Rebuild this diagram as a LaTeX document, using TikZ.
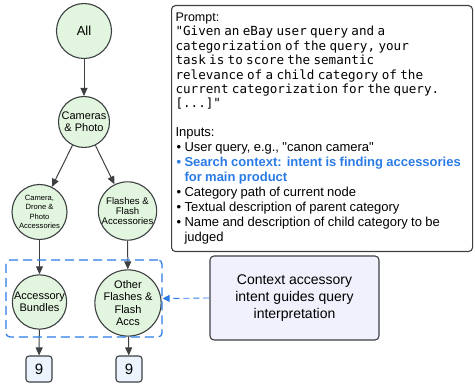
\documentclass[tikz,border=0pt]{standalone}
\usepackage{fontspec}
\setmainfont{Liberation Sans}
\setmonofont{DejaVu Sans Mono}[WordSpace={1,0,0},PunctuationSpace=WordSpace]
\usepackage{xcolor}
\usetikzlibrary{positioning,arrows.meta,calc}
\definecolor{catfill}{HTML}{E2F5DE}
\definecolor{edgegray}{HTML}{3C4043}
\definecolor{ctxblue}{HTML}{2B7BE6}
\definecolor{ctxfill}{HTML}{F0F1FC}
\definecolor{scorefill}{HTML}{EDF3FC}
\newcommand{\fs}[2]{\fontsize{#1}{#2}\selectfont}
\newcommand{\bul}{\makebox[8pt][l]{\textbullet}}
\tikzset{
cat/.style={
circle,
draw=edgegray,
line width=1.1pt,
fill=catfill,
inner sep=0pt,
align=center
},
scorebox/.style={
draw=edgegray,
rounded corners=3pt,
line width=1.1pt,
fill=scorefill,
minimum size=26pt,
inner sep=0pt,
font=\fs{15}{15}
},
arrow/.style={
-{Triangle[length=8pt,width=7pt]},
edgegray,
line width=1pt
}
}
\begin{document}
\begin{tikzpicture}[x=1pt,y=-1pt]
\useasboundingbox (0,0) rectangle (475,387);
% category tree
\node[cat,minimum size=55pt,font=\fs{13}{14}](all) at (84,31){All};
\node[cat,minimum size=51pt,font=\fs{11}{12}](cam) at (84,122){Cameras\\\& Photo};
\node[cat,minimum size=55pt,font=\fs{7.6}{9.4}](cdp) at (39.5,212){Camera,\\Drone \&\\Photo\\Accessories};
\node[cat,minimum size=53pt,font=\fs{9.6}{10.2}](ffa) at (127.5,211){Flashes \&\\Flash\\Accessories};
\node[cat,minimum size=54pt,font=\fs{11}{11.8}](ab) at (39.5,302){Accessory\\Bundles};
\node[cat,minimum size=52pt,font=\fs{11}{12.2}](ofa) at (128,303){Other\\Flashes \&\\Flash\\Accs};
\node[scorebox](s1) at (39,369){9};
\node[scorebox](s2) at (129,369){9};

\foreach \x/\y in {all/cam,cam/cdp,cam/ffa,cdp/ab,ffa/ofa,ab/s1,ofa/s2}
\draw[arrow](\x)--(\y);

% context highlight
\node[draw=ctxblue,dashed,dash pattern=on 9pt off 5pt,line width=1.2pt,rounded corners=4pt,
minimum width=156pt,minimum height=77pt](ctxzone) at (84,298.5){};
\node[draw=edgegray,line width=1.1pt,rounded corners=4pt,fill=ctxfill,
minimum width=169pt,minimum height=84pt,align=center,font=\fs{14}{16.7}](ctx) at (294.5,298){Context accessory\\intent guides query\\interpretation};
\draw[ctxblue,dashed,dash pattern=on 6pt off 4pt,line width=0.9pt,-{Triangle[length=7pt,width=7pt]}](ctx.west)--(ctxzone.east);

% prompt box
\node[draw=edgegray,line width=1.1pt,rounded corners=4pt,anchor=north west,
minimum width=299pt,minimum height=246pt,text width=293pt,inner sep=4pt,align=left](prompt) at (171,5){%
{\fs{12.5}{15}\vspace*{0.8pt}Prompt:\par}\vspace{-1pt}
{\ttfamily\fs{12.6}{14.4}\frenchspacing "Given an eBay user query and a\\categorization of the query, your\\task is to score the semantic\\relevance of a child category of the\\current categorization for the query.\\{}[...]"\par}
\vspace{13.5pt}
{\fs{13}{15}Inputs:\\
\hspace*{1pt}\bul User query, e.g., \textquotedbl canon camera\textquotedbl\\
\hspace*{1pt}{\color{ctxblue}\bfseries\bul Search context: intent is finding accessories}\\
\hspace*{9pt}{\color{ctxblue}\bfseries for main product}\\
\hspace*{1pt}\bul Category path of current node\\
\hspace*{1pt}\bul Textual description of parent category\\
\hspace*{1pt}\bul Name and description of child category to be\\
\hspace*{9pt}judged\par}};
\end{tikzpicture}
\end{document}
